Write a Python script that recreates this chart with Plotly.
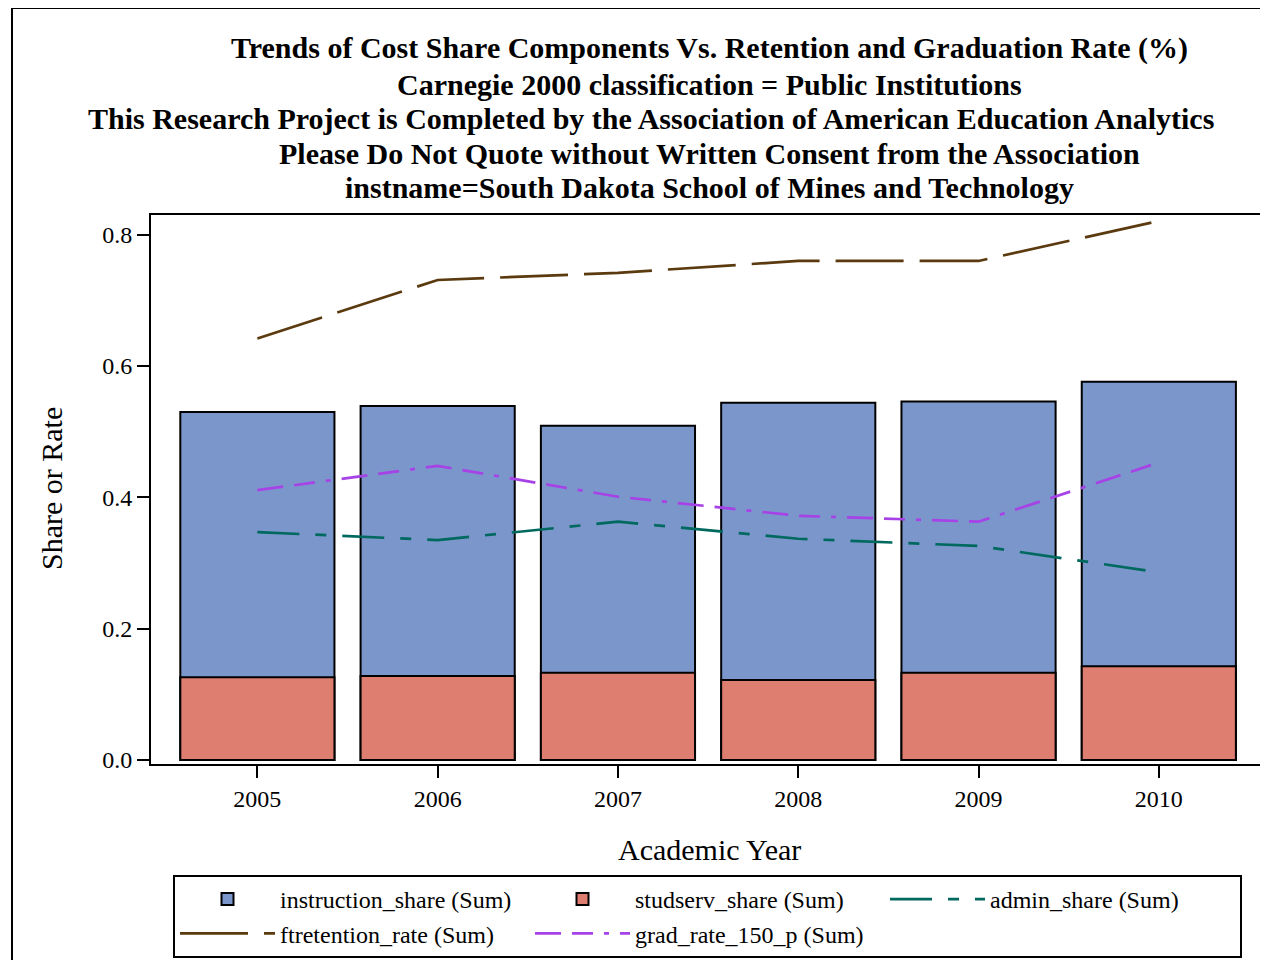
import plotly.graph_objects as go

years = ['2005', '2006', '2007', '2008', '2009', '2010']
instruction_share = [0.530, 0.539, 0.509, 0.544, 0.546, 0.576]
studserv_share = [0.126, 0.128, 0.133, 0.122, 0.133, 0.143]
admin_share = [0.347, 0.335, 0.363, 0.337, 0.326, 0.286]
ftretention_rate = [0.642, 0.731, 0.742, 0.760, 0.760, 0.821]
grad_rate_150_p = [0.411, 0.448, 0.401, 0.372, 0.363, 0.453]

title_lines = [
    'Trends of Cost Share Components Vs. Retention and Graduation Rate (%)',
    'Carnegie 2000 classification = Public Institutions',
    'This Research Project is Completed by the Association of American Education Analytics',
    'Please Do Not Quote without Written Consent from the Association',
    'instname=South Dakota School of Mines and Technology',
]

FONT = 'Liberation Serif, Times New Roman, serif'

# page body margin shifts the figure, so work in screen pixels minus OFF
OFF = 7
L, R, T, B = 150 - OFF, 1266 - OFF, 214 - OFF, 763 - OFF
PW, PH = R - L, B - T


def px_x(x):
    return (x - OFF - L) / PW


def px_y(y):
    return (B - (y - OFF)) / PH


fig = go.Figure()
fig.add_trace(go.Bar(x=years, y=instruction_share, name='instruction_share (Sum)',
                     marker=dict(color='#7b96cb', line=dict(color='black', width=2)),
                     width=0.855))
fig.add_trace(go.Bar(x=years, y=studserv_share, name='studserv_share (Sum)',
                     marker=dict(color='#de7e70', line=dict(color='black', width=2)),
                     width=0.855))
fig.add_trace(go.Scatter(x=years, y=admin_share, name='admin_share (Sum)', mode='lines',
                         line=dict(color='#00695f', width=2.7, dash='42px,16px,11px,16px')))
fig.add_trace(go.Scatter(x=years, y=ftretention_rate, name='ftretention_rate (Sum)', mode='lines',
                         line=dict(color='#5a3a0e', width=2.7, dash='68px,16px')))
fig.add_trace(go.Scatter(x=years, y=grad_rate_150_p, name='grad_rate_150_p (Sum)', mode='lines',
                         line=dict(color='#a642e6', width=2.7, dash='26px,11px,21px,11px,5px,11px')))

# title lines as separate annotations
title_y = [47, 83, 117, 152, 186]
title_x = [708, 708, 650, 708, 708]
anns = []
for txt, yy, xx in zip(title_lines, title_y, title_x):
    anns.append(dict(text='<b>' + txt + '</b>', xref='paper', yref='paper',
                     x=px_x(xx), y=px_y(yy),
                     xanchor='center', yanchor='middle', showarrow=False,
                     font=dict(family=FONT, size=30, color='black')))
anns.append(dict(text='Academic Year', xref='paper', yref='paper', x=px_x(708), y=px_y(848),
                 xanchor='center', yanchor='middle', showarrow=False,
                 font=dict(family=FONT, size=30, color='black')))
anns.append(dict(text='Share or Rate', xref='paper', yref='paper', x=px_x(50), y=px_y(488),
                 xanchor='center', yanchor='middle', showarrow=False, textangle=-90,
                 font=dict(family=FONT, size=30, color='black')))

fig.update_layout(
    width=1268, height=960,
    margin=dict(l=L, r=1268 - R, t=T, b=960 - B, autoexpand=False),
    paper_bgcolor='white', plot_bgcolor='white',
    barmode='overlay',
    font=dict(family=FONT, size=24, color='black'),
    annotations=anns,
    showlegend=True,
    legend=dict(orientation='h', x=px_x(172), y=px_y(874),
                xanchor='left', yanchor='top',
                bordercolor='black', borderwidth=2,
                font=dict(family=FONT, size=24),
                entrywidth=245, entrywidthmode='pixels',
                itemwidth=95, traceorder='normal', tracegroupgap=0),
    shapes=[dict(type='rect', xref='paper', yref='paper',
                 x0=px_x(11), x1=1.02, y0=px_y(985), y1=px_y(7),
                 line=dict(color='black', width=2), layer='below')],
)
fig.update_xaxes(range=[-0.59, 5.6], showline=True, linecolor='black', linewidth=2,
                 mirror=True, ticks='outside', ticklen=12, tickwidth=2, tickcolor='black',
                 showgrid=False)
fig.update_yaxes(range=[-0.006, 0.83], tickvals=[0, 0.2, 0.4, 0.6, 0.8],
                 ticktext=['0.0', '0.2', '0.4', '0.6', '0.8'],
                 showline=True, linecolor='black', linewidth=2,
                 mirror=True, ticks='outside', ticklen=12, tickwidth=2, tickcolor='black',
                 showgrid=False, zeroline=False)

fig.write_html('out.html')
